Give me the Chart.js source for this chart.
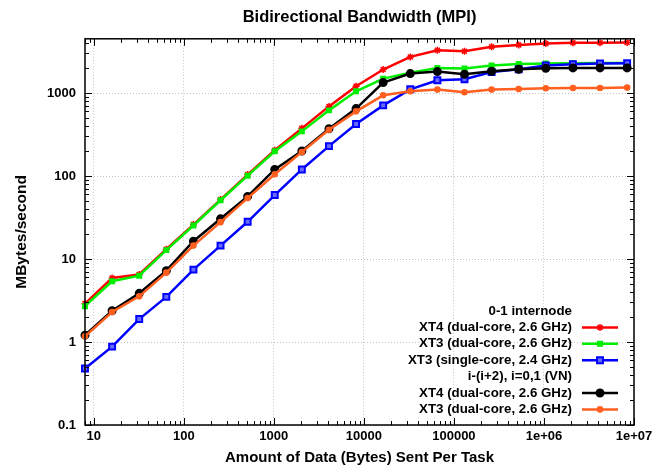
<!DOCTYPE html>
<html>
<head>
<meta charset="utf-8">
<title>Bidirectional Bandwidth (MPI)</title>
<script src="https://cdn.jsdelivr.net/npm/chart.js@4.4.1/dist/chart.umd.min.js"></script>
<style>
  html, body { margin: 0; padding: 0; background: #fff; }
  #wrap { width: 670px; height: 468px; }
</style>
</head>
<body>
<div id="wrap"><canvas id="bw"></canvas></div>
<script>
// ── Data ─────────────────────────────────────────────────────────────────────
const msgBytes = [8, 16, 32, 64, 128, 256, 512, 1024, 2048, 4096, 8192, 16384,
  32768, 65536, 131072, 262144, 524288, 1048576, 2097152, 4194304, 8388608];

const xt4Internode = [2.9, 5.9, 6.5, 13.1, 26, 52, 104, 204, 375, 690, 1205, 1920,
  2725, 3280, 3190, 3600, 3800, 3950, 4020, 4020, 4060];
const xt3DualInternode = [2.7, 5.4, 6.3, 12.8, 25.3, 51, 101, 199, 345, 618, 1050, 1490,
  1760, 2000, 1970, 2140, 2240, 2265, 2285, 2300, 2300];
const xt3SingleInternode = [0.48, 0.88, 1.89, 3.5, 7.45, 14.5, 28.1, 59, 120, 229, 423, 710,
  1108, 1423, 1463, 1794, 1932, 2143, 2223, 2265, 2290];
const xt4Vn = [1.21, 2.38, 3.86, 7.24, 16.4, 30.5, 56.8, 120, 200, 371, 649, 1336,
  1714, 1813, 1682, 1829, 1932, 1987, 2005, 2005, 2005];
const xt3Vn = [1.17, 2.3, 3.55, 6.85, 14.5, 27.8, 54.2, 105, 195, 361, 601, 938,
  1050, 1099, 1020, 1099, 1118, 1140, 1150, 1150, 1162];

const seriesLabels = [
  'XT4 (dual-core, 2.6 GHz)',
  'XT3 (dual-core, 2.6 GHz)',
  'XT3 (single-core, 2.4 GHz)',
  'XT4 (dual-core, 2.6 GHz)',
  'XT3 (dual-core, 2.6 GHz)'
];
const legendHeaders = ['0-1 internode', 'i-(i+2), i=0,1 (VN)'];

const xTickDecades = [10, 100, 1000, 10000, 100000, 1e6, 1e7];
const yTickDecades = [0.1, 1, 10, 100, 1000];

// ── Helpers ──────────────────────────────────────────────────────────────────
const FONT = "'Liberation Sans', Arial, Helvetica, sans-serif";
Chart.defaults.font.family = FONT;
Chart.defaults.font.weight = 'bold';
Chart.defaults.color = '#000';

function isDecade(v) {
  const l = Math.log10(v);
  return Math.abs(l - Math.round(l)) < 1e-9;
}

// decades plus 2..9 minors between min and max
function logTicks(min, max) {
  const out = [];
  const e0 = Math.floor(Math.log10(min));
  const e1 = Math.ceil(Math.log10(max));
  for (let e = e0; e <= e1; e++) {
    for (let k = 1; k <= 9; k++) {
      const v = parseFloat((k * Math.pow(10, e)).toPrecision(6));
      if (v >= min - 1e-12 && v <= max + 1e-9) out.push({ value: v });
    }
  }
  return out;
}

function fmtX(v) {
  if (v >= 1e6) return '1e+' + String(Math.round(Math.log10(v))).padStart(2, '0');
  return String(v);
}

function pts(ys) {
  return msgBytes.map((x, i) => ({ x, y: ys[i] }));
}

// ── Gnuplot-ish frame: border + inward ticks + legend ───────────────────────
const framePlugin = {
  id: 'frame',
  afterDraw(chart) {
    const { ctx, chartArea: a, scales } = chart;
    ctx.save();
    ctx.strokeStyle = '#000';
    ctx.lineWidth = 1;

    ctx.beginPath();
    scales.x.ticks.forEach(t => {
      const px = Math.round(scales.x.getPixelForValue(t.value)) + 0.5;
      if (px < a.left - 0.5 || px > a.right + 0.5) return;
      const len = isDecade(t.value) ? 7 : 4;
      ctx.moveTo(px, a.bottom); ctx.lineTo(px, a.bottom - len);
      ctx.moveTo(px, a.top); ctx.lineTo(px, a.top + len);
    });
    scales.y.ticks.forEach(t => {
      const py = Math.round(scales.y.getPixelForValue(t.value)) + 0.5;
      if (py < a.top - 0.5 || py > a.bottom + 0.5) return;
      const len = isDecade(t.value) ? 7 : 4;
      ctx.moveTo(a.left, py); ctx.lineTo(a.left + len, py);
      ctx.moveTo(a.right, py); ctx.lineTo(a.right - len, py);
    });
    ctx.stroke();

    ctx.lineWidth = 1.5;
    ctx.strokeRect(a.left, a.top, a.right - a.left, a.bottom - a.top);

    // legend, bottom right inside the plot
    const textRight = 572, lineL = 582, lineR = 618;
    const rowH = 16.4;
    let y = 311;
    const ds = chart.data.datasets;
    const rows = [
      { header: legendHeaders[0] }, { ds: 0 }, { ds: 1 }, { ds: 2 },
      { header: legendHeaders[1] }, { ds: 3 }, { ds: 4 }
    ];
    ctx.font = 'bold 13.3px ' + FONT;
    ctx.textAlign = 'right';
    ctx.textBaseline = 'middle';
    rows.forEach(r => {
      ctx.fillStyle = '#000';
      if (r.header) {
        ctx.fillText(r.header, textRight, y);
      } else {
        const d = ds[r.ds];
        ctx.fillText(d.label, textRight, y);
        ctx.strokeStyle = d.borderColor;
        ctx.lineWidth = d.borderWidth;
        ctx.beginPath();
        ctx.moveTo(lineL, y); ctx.lineTo(lineR, y);
        ctx.stroke();
        ctx.fillStyle = d.pointBackgroundColor;
        ctx.strokeStyle = d.pointBorderColor;
        ctx.lineWidth = d.pointBorderWidth;
        Chart.helpers.drawPoint(ctx, {
          pointStyle: d.pointStyle, radius: d.pointRadius, rotation: 0, borderWidth: d.pointBorderWidth
        }, (lineL + lineR) / 2, y);
      }
      y += rowH;
    });
    ctx.restore();
  }
};

function series(label, ys, color, style, radius, order, fill, bw) {
  return {
    label,
    data: pts(ys),
    borderColor: color,
    backgroundColor: color,
    borderWidth: 2.5,
    pointStyle: style,
    pointRadius: radius,
    pointHoverRadius: radius,
    pointBackgroundColor: fill || color,
    pointBorderColor: color,
    pointBorderWidth: bw || 2,
    tension: 0,
    clip: 8,
    order
  };
}

new Chart(document.getElementById('bw'), {
  type: 'line',
  data: {
    datasets: [
      series(seriesLabels[0], xt4Internode, '#ff0000', 'star', 3.5, 5, null, 1.5),
      series(seriesLabels[1], xt3DualInternode, '#00ee00', 'rect', 2.8, 4),
      series(seriesLabels[2], xt3SingleInternode, '#0000ff', 'rect', 4.2, 3, '#6a6aff'),
      series(seriesLabels[3], xt4Vn, '#000000', 'circle', 3.5, 2),
      series(seriesLabels[4], xt3Vn, '#ff5f1f', 'circle', 2.3, 1)
    ]
  },
  options: {
    responsive: true,
    maintainAspectRatio: false,
    animation: false,
    events: [],
    layout: { padding: { left: 0, right: 36, top: 0, bottom: 0 } },
    plugins: {
      legend: { display: false },
      tooltip: { enabled: false },
      title: {
        display: true,
        text: 'Bidirectional Bandwidth (MPI)',
        fullSize: false,
        font: { size: 16.5, weight: 'bold' },
        color: '#000',
        padding: { top: 8, bottom: 11 }
      }
    },
    scales: {
      x: {
        type: 'logarithmic',
        min: 8,
        max: 1e7,
        afterBuildTicks: s => { s.ticks = logTicks(8, 1e7); },
        afterFit: s => { s.height = 43; s.paddingLeft = 0; s.paddingRight = 0; },
        ticks: {
          autoSkip: false,
          maxRotation: 0,
          padding: 4,
          font: { size: 13, weight: 'bold' },
          callback: v => xTickDecades.includes(v) ? fmtX(v) : ''
        },
        grid: {
          drawTicks: false,
          lineWidth: 1,
          color: c => (c.tick && isDecade(c.tick.value)) ? '#c4c4c4' : 'rgba(0,0,0,0)'
        },
        border: { display: false, dash: [1, 2] },
        title: {
          display: true,
          text: 'Amount of Data (Bytes) Sent Per Task',
          font: { size: 15, weight: 'bold' },
          padding: { top: 0, bottom: 1 }
        }
      },
      y: {
        type: 'logarithmic',
        min: 0.1,
        max: 4500,
        afterBuildTicks: s => { s.ticks = logTicks(0.1, 4500); },
        afterFit: s => { s.width = 85; s.paddingTop = 0; s.paddingBottom = 0; },
        ticks: {
          autoSkip: false,
          padding: 9,
          font: { size: 13, weight: 'bold' },
          callback: v => yTickDecades.includes(v) ? String(v) : ''
        },
        grid: {
          drawTicks: false,
          lineWidth: 1,
          color: c => (c.tick && isDecade(c.tick.value)) ? '#c4c4c4' : 'rgba(0,0,0,0)'
        },
        border: { display: false, dash: [1, 2] },
        title: {
          display: true,
          text: 'MBytes/second',
          font: { size: 15.5, weight: 'bold' },
          padding: { top: 12, bottom: 0 }
        }
      }
    }
  },
  plugins: [framePlugin]
});
</script>
</body>
</html>
